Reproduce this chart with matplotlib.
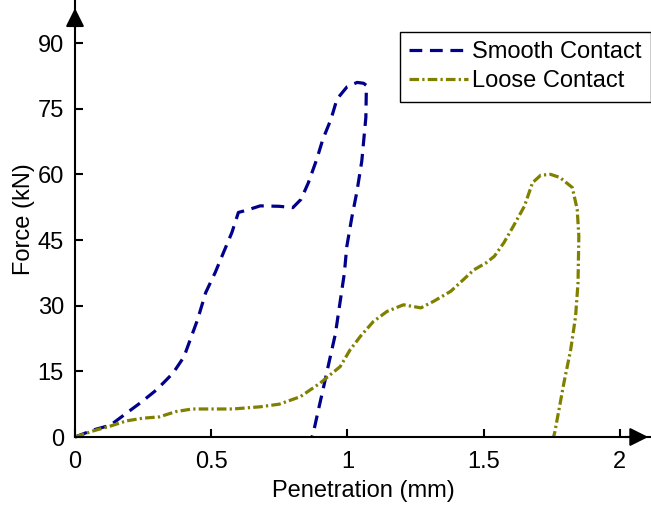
import matplotlib
matplotlib.use('Agg')
import matplotlib.pyplot as plt

plt.rcParams['font.family'] = ['Liberation Sans', 'DejaVu Sans']

# curva do contato liso (carga e descarga)
pen_liso = [0, 0.067, 0.13, 0.19, 0.24, 0.30, 0.36, 0.40, 0.45, 0.48, 0.515, 0.545,
            0.576, 0.60, 0.63, 0.68, 0.75, 0.80, 0.83, 0.857, 0.888, 0.91, 0.94, 0.962,
            0.999, 1.036, 1.06, 1.07, 1.068, 1.053, 1.035, 1.016, 0.998, 0.989, 0.974,
            0.956, 0.934, 0.912, 0.893, 0.875, 0.87]
forca_liso = [0, 1.6, 2.7, 5.5, 7.8, 10.8, 14.6, 18.3, 26.8, 33, 37.6, 42.1,
              46.7, 51.3, 51.8, 52.8, 52.7, 52.4, 54.3, 58.1, 63.5, 68, 72.6, 77.2,
              80, 81, 80.8, 80.3, 73, 63, 56, 50, 43.5, 37.4, 31.1,
              23.5, 17.4, 11.2, 6, 0.9, 0]

# curva do contato solto
pen_solto = [0, 0.067, 0.13, 0.19, 0.25, 0.31, 0.37, 0.43, 0.50, 0.58, 0.68, 0.75,
             0.827, 0.90, 0.974, 1.01, 1.048, 1.096, 1.146, 1.206, 1.27, 1.317, 1.38,
             1.427, 1.465, 1.51, 1.54, 1.575, 1.61, 1.65, 1.68, 1.71, 1.746, 1.78,
             1.826, 1.844, 1.85, 1.847, 1.838, 1.82, 1.795, 1.777, 1.761, 1.757]
forca_solto = [0, 1.4, 2.5, 3.7, 4.3, 4.6, 5.8, 6.4, 6.4, 6.4, 6.9, 7.5,
               9.2, 12.3, 16.1, 19.9, 23, 26.4, 28.7, 30.2, 29.5, 31, 33.3,
               36, 38.2, 39.8, 41.3, 44.4, 48.2, 52.7, 58.1, 59.8, 60, 59.3,
               57, 52, 45.9, 35.2, 27.5, 19.9, 12.3, 6.2, 0.9, 0]

xticks = [0, 0.5, 1, 1.5, 2]
xticklabels = ['0', '0.5', '1', '1.5', '2']
yticks = [0, 15, 30, 45, 60, 75, 90]

fs = 17

fig = plt.figure(figsize=(6.51, 5.07), dpi=100)
ax = fig.add_axes([75/651, 70/507, 1 - 75/651, 1 - 70/507 - 1/507])

ax.plot(pen_liso, forca_liso, color='#00008B', lw=2.3, dashes=(4.0, 2.4),
        label='Smooth Contact', clip_on=False)
ax.plot(pen_solto, forca_solto, color='#808000', lw=2.3, dashes=(3.0, 1.0, 0.7, 1.0),
        label='Loose Contact', clip_on=False)

ax.set_xlim(0, 2.115)
ax.set_ylim(0, 99.6)
ax.set_xticks(xticks)
ax.set_xticklabels(xticklabels)
ax.set_yticks(yticks)
ax.tick_params(direction='in', length=6, width=1.5, labelsize=fs)
ax.tick_params(axis='x', pad=10)
ax.tick_params(axis='y', pad=8)

for s in ['top', 'right']:
    ax.spines[s].set_visible(False)
for s in ['left', 'bottom']:
    ax.spines[s].set_linewidth(1.5)

# setas nos eixos
ax.annotate('', xy=(1.0, 0), xytext=(0.95, 0), xycoords='axes fraction',
            arrowprops=dict(arrowstyle='-|>', color='k', lw=1.5, mutation_scale=28))
ax.annotate('', xy=(0, 0.99), xytext=(0, 0.93), xycoords='axes fraction',
            arrowprops=dict(arrowstyle='-|>', color='k', lw=1.5, mutation_scale=28))

ax.set_xlabel('Penetration (mm)', fontsize=fs, labelpad=5)
ax.set_ylabel('Force (kN)', fontsize=fs, labelpad=2)

leg = ax.legend(loc='upper left', bbox_to_anchor=(400/651, 1 - 32/507),
                bbox_transform=fig.transFigure, fontsize=fs, fancybox=False,
                edgecolor='k', framealpha=1, borderpad=0.4, labelspacing=0.28,
                handlelength=2.5, handletextpad=0.15, borderaxespad=0)
leg.get_frame().set_linewidth(1.0)

fig.savefig('out.png', dpi=100)
